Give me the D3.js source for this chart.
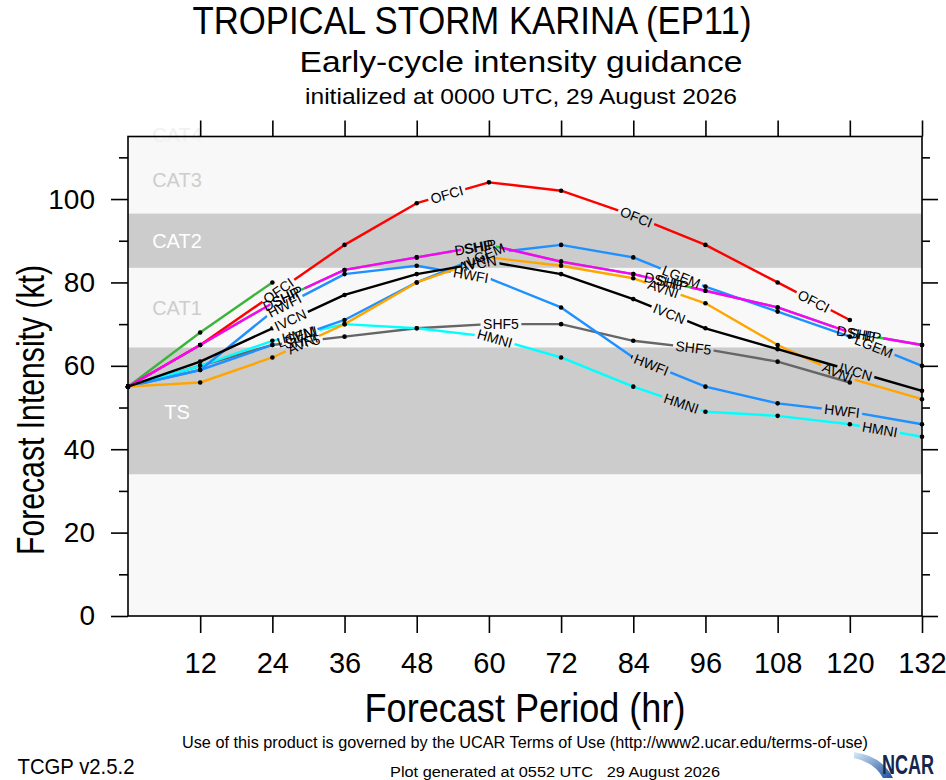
<!DOCTYPE html>
<html>
<head>
<meta charset="utf-8">
<script src="https://cdn.jsdelivr.net/npm/d3@7"></script>
<style>
body{margin:0;background:#fff;}
svg text{font-family:"Liberation Sans",Arial,Helvetica,sans-serif;}
.narrow{font-family:"Liberation Sans Narrow","Liberation Sans",Arial,sans-serif;}
</style>
</head>
<body>
<div id="chart"></div>
<script>

/* ==========================
   Data (kt, every 12 h)
========================== */

const hours = [0,12,24,36,48,60,72,84,96,108,120,132];

const ofci  = [55,65,77,89,99,104,102,96,89,80,71];
const ship  = [55,65,75,83,86,89,85,82,78,74,68,65];
const dshp  = [55,65,75,83,86,89,85,82,78,74,68,65];
const early = [55,68,80];
const lgem  = [55,59,65,71,80,87,89,86,79,73,67,60];
const hwfi  = [55,59,73,82,84,81,74,62,55,51,49,46];
const ivcn  = [55,61,69,77,82,85,82,76,69,64,59,54];
const avni  = [55,56,62,70,80,86,84,81,75,65,57,52];
const hmni  = [55,60,66,70,69,67,62,55,49,48,46,43];
const shf5  = [55,60,65,67,69,70,70,66,64,61,56];

const xTicks = [12,24,36,48,60,72,84,96,108,120,132];
const yMajor = [0,20,40,60,80,100];
const yMinor = [10,30,50,70,90,110];

const bands = [
  {lo:34,   hi:64.4},
  {lo:83.5, hi:96.5}
];
const catLabels = [
  {text:"CAT3", v:104.5, light:false},
  {text:"CAT2", v:90,    light:true},
  {text:"CAT1", v:74,    light:false},
  {text:"TS",   v:49,    light:true}
];

/* where each model name sits along its line (hours) */
const labelHours = {
  DSHP:[25.5,57.5,89,121],
  OFCI:[25,53,84.5,114],
  SHF5:[29,62,94],
  HMNI:[28.5,61,92,125],
  LGEM:[28,59.5,92,124],
  HWFI:[26,57,87,118.7],
  AVNI:[29,57.5,89,118],
  SHIP:[26.5,58.5,90.5,122.5],
  IVCN:[27,58.5,90,121]
};

const models = [
  {name:"",     values:early, color:"#3cb43c"},
  {name:"DSHP", values:dshp,  color:"#22cc22"},
  {name:"OFCI", values:ofci,  color:"#ff0000"},
  {name:"SHF5", values:shf5,  color:"#666666"},
  {name:"HMNI", values:hmni,  color:"#00ffff"},
  {name:"LGEM", values:lgem,  color:"#1e90ff"},
  {name:"HWFI", values:hwfi,  color:"#1e90ff"},
  {name:"AVNI", values:avni,  color:"#ffa500"},
  {name:"SHIP", values:ship,  color:"#ff00ff"},
  {name:"IVCN", values:ivcn,  color:"#000000"}
];

/* ==========================
   Layout
========================== */

const W = 946, H = 780;
const plotL = 128, plotR = 922, plotT = 136.5, plotB = 616;

const svg = d3.select("#chart")
.append("svg")
.attr("width", W)
.attr("height", H);

const x = d3.scaleLinear().domain([0,132]).range([plotL,plotR]);
const y = d3.scaleLinear().domain([0,115]).range([plotB,plotT]);

const defs = svg.append("defs");

/* plot background + bands */
svg.append("rect")
.attr("x", plotL).attr("y", plotT)
.attr("width", plotR-plotL).attr("height", plotB-plotT)
.attr("fill", "#f8f8f8");

svg.selectAll(".band")
.data(bands)
.enter()
.append("rect")
.attr("x", plotL)
.attr("width", plotR-plotL)
.attr("y", d => y(d.hi))
.attr("height", d => y(d.lo) - y(d.hi))
.attr("fill", "#cccccc");

svg.selectAll(".cat")
.data(catLabels)
.enter()
.append("text")
.attr("x", plotL + 49)
.attr("y", d => y(d.v))
.attr("dy", "0.36em")
.attr("text-anchor", "middle")
.attr("font-size", 20)
.attr("fill", d => d.light ? "#ffffff" : "#cdcdcd")
.text(d => d.text);

/* CAT4 only peeks out at the top edge */
svg.append("text")
.attr("x", plotL + 49)
.attr("y", plotT + 5)
.attr("text-anchor", "middle")
.attr("font-size", 20)
.attr("fill", "#f1f1f1")
.text("CAT4");

/* ==========================
   Lines, dots and labels
========================== */

const seriesLayer = svg.append("g");
const labelLayer = svg.append("g");

function pointAt(pts, h){
  let i = Math.min(Math.floor(h/12), pts.length-2);
  const t = (h - hours[i]) / 12;
  const p0 = pts[i], p1 = pts[i+1];
  return {
    x: p0[0] + (p1[0]-p0[0])*t,
    y: p0[1] + (p1[1]-p0[1])*t,
    a: Math.atan2(p1[1]-p0[1], p1[0]-p0[0]) * 180 / Math.PI
  };
}

const line = d3.line();

models.forEach((m, i) => {

const pts = m.values.map((v,j) => [x(hours[j]), y(v)]);

const mask = defs.append("mask")
.attr("id", "gap" + i)
.attr("maskUnits", "userSpaceOnUse")
.attr("x", 0).attr("y", 0)
.attr("width", W).attr("height", H);

mask.append("rect")
.attr("width", W).attr("height", H)
.attr("fill", "#fff");

(labelHours[m.name] || []).forEach(h => {

const p = pointAt(pts, h);
const tf = `translate(${p.x},${p.y}) rotate(${p.a})`;

const t = labelLayer.append("text")
.attr("transform", tf)
.attr("text-anchor", "middle")
.attr("dy", "0.36em")
.attr("font-size", 14)
.attr("fill", "#000")
.text(m.name);

const w = t.node().getComputedTextLength();

mask.append("rect")
.attr("transform", tf)
.attr("x", -w/2 - 2.5)
.attr("y", -7)
.attr("width", w + 5)
.attr("height", 14)
.attr("fill", "#000");

});

const g = seriesLayer.append("g")
.attr("mask", `url(#gap${i})`);

g.append("path")
.attr("d", line(pts))
.attr("fill", "none")
.attr("stroke", m.color)
.attr("stroke-width", 2.4)
.attr("stroke-linejoin", "round");

g.selectAll("circle")
.data(pts)
.enter()
.append("circle")
.attr("cx", d => d[0])
.attr("cy", d => d[1])
.attr("r", 2.3)
.attr("fill", "#000");

});

/* ==========================
   Frame and axes
========================== */

svg.append("rect")
.attr("x", plotL).attr("y", plotT)
.attr("width", plotR-plotL).attr("height", plotB-plotT)
.attr("fill", "none")
.attr("stroke", "#000")
.attr("stroke-width", 1.6);

function styleAxis(g){
g.select(".domain").remove();
g.selectAll(".tick line").attr("stroke", "#000").attr("stroke-width", 1.6);
}

svg.append("g")
.attr("transform", `translate(0,${plotB})`)
.call(d3.axisBottom(x).tickValues(xTicks).tickSize(17).tickPadding(19))
.call(styleAxis)
.call(g => g.selectAll("text")
  .attr("class", "narrow")
  .attr("font-size", 29)
  .attr("fill", "#000"))
.attr("font-family", null);

svg.append("g")
.attr("transform", `translate(0,${plotT})`)
.call(d3.axisTop(x).tickValues(xTicks).tickSize(16).tickFormat(""))
.call(styleAxis);

svg.append("g")
.attr("transform", `translate(${plotL},0)`)
.call(d3.axisLeft(y).tickValues(yMajor).tickSize(17).tickPadding(16))
.call(styleAxis)
.call(g => g.selectAll("text")
  .attr("font-size", 28)
  .attr("fill", "#000"))
.attr("font-family", null);

svg.append("g")
.attr("transform", `translate(${plotL},0)`)
.call(d3.axisLeft(y).tickValues(yMinor).tickSize(9).tickFormat(""))
.call(styleAxis);

svg.append("g")
.attr("transform", `translate(${plotR},0)`)
.call(d3.axisRight(y).tickValues(yMajor).tickSize(16).tickFormat(""))
.call(styleAxis);

svg.append("g")
.attr("transform", `translate(${plotR},0)`)
.call(d3.axisRight(y).tickValues(yMinor).tickSize(8).tickFormat(""))
.call(styleAxis);

/* ==========================
   Titles and footer
========================== */

function addText(str, tx, ty, size, len, cls){
const t = svg.append("text")
.attr("x", tx).attr("y", ty)
.attr("text-anchor", "middle")
.attr("font-size", size)
.attr("fill", "#000")
.style("white-space", "pre")
.text(str);
if(cls) t.attr("class", cls);
if(len) t.attr("textLength", len).attr("lengthAdjust", "spacingAndGlyphs");
return t;
}

addText("TROPICAL STORM KARINA (EP11)", 472, 34, 39, 559);
addText("Early-cycle intensity guidance", 521, 72, 30, 443);
addText("initialized at 0000 UTC, 29 August 2026", 521, 104, 22, 432);

addText("Forecast Period (hr)", 525, 722, 40, 321, "narrow");

svg.append("text")
.attr("transform", "translate(44,410) rotate(-90)")
.attr("text-anchor", "middle")
.attr("font-size", 38)
.attr("textLength", 290)
.attr("lengthAdjust", "spacingAndGlyphs")
.text("Forecast Intensity (kt)");

addText("Use of this product is governed by the UCAR Terms of Use (http://www2.ucar.edu/terms-of-use)", 525, 748, 17, 686, "narrow");
addText("TCGP v2.5.2", 76, 774, 22, 117, "narrow");
addText("Plot generated at 0552 UTC   29 August 2026", 555, 777, 14, 330, "narrow");

/* NCAR logo */
const grad = defs.append("linearGradient")
.attr("id", "swoosh")
.attr("x1", "0").attr("y1", "0").attr("x2", "1").attr("y2", "1");
grad.append("stop").attr("offset", "0").attr("stop-color", "#d8ecf8");
grad.append("stop").attr("offset", "1").attr("stop-color", "#1c4f9c");

svg.append("path")
.attr("d", "M854,752 Q882,756 893,778 L883,778 Q874,762 854,758 Z")
.attr("fill", "url(#swoosh)");

svg.append("text")
.attr("x", 882).attr("y", 774)
.attr("class", "narrow")
.attr("font-size", 27)
.attr("font-weight", "bold")
.attr("fill", "#15264f")
.attr("textLength", 52)
.attr("lengthAdjust", "spacingAndGlyphs")
.text("NCAR");

</script>
</body>
</html>
